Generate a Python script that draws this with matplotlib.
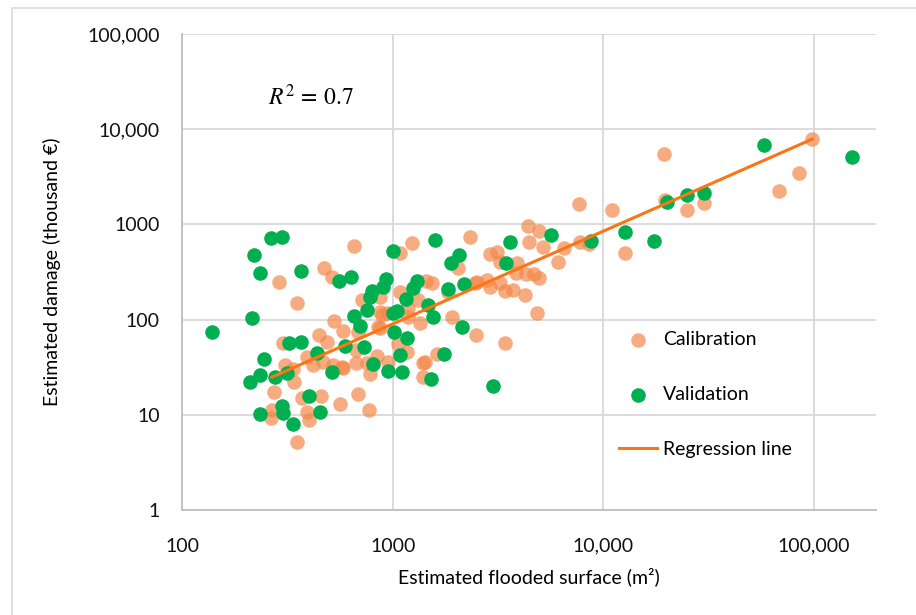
import numpy as np
import matplotlib
matplotlib.use("Agg")
import matplotlib.pyplot as plt
from matplotlib.ticker import FuncFormatter, FixedLocator, NullLocator
from matplotlib.patches import Rectangle

plt.rcParams['font.family'] = ['Lato', 'DejaVu Sans']
plt.rcParams['mathtext.fontset'] = 'stix'

# Calibration points (flooded surface m2, damage thousand EUR)
cal_x = [289, 351, 472, 515, 655, 1083, 1235, 2327, 2041, 1439, 1537, 715, 870, 1083,
         1318, 527, 581, 447, 302, 488, 392, 418, 308, 336, 340, 467, 521, 574, 670, 670,
         842, 780, 852, 890, 1060, 1169, 1348, 1182, 1393, 1393, 1623, 1911, 2485, 273,
         371, 457, 562, 684, 772, 267, 265, 392, 401, 351, 19395, 97724, 84792, 68123,
         24928, 30019, 19605, 7660, 10986, 12663, 4387, 4948, 4436, 5168, 6501, 7744,
         8544, 6087, 2895, 3126, 3229, 3890, 3848, 4292, 4684, 4948, 2512, 2803, 2895,
         3229, 3412, 3724, 4246, 4841, 1830, 940, 1182, 3412, 870, 950, 2458, 581, 684,
         755, 1423, 870]
cal_y = [248, 149, 348, 280, 593, 501, 638, 738, 348, 254, 242, 161, 173, 195,
         161, 97, 76, 69, 57, 58, 40, 33, 33, 30, 22, 36, 33, 32, 35, 48,
         41, 27, 84, 112, 55, 46, 92, 132, 35, 25, 44, 107, 69, 17.4,
         15, 15.8, 13, 16.5, 11.2, 11.2, 9.3, 10.7, 8.9, 5.2, 5486, 7889, 3467, 2243,
         1416, 1679, 1804, 1637, 1416, 501, 962, 853, 653, 579, 565, 653,
         622, 403, 489, 513, 403, 393, 308, 301, 301, 273, 248, 261, 220,
         242, 200, 205, 181, 117, 195, 117, 107, 57, 82, 36, 242, 31, 74,
         35, 36, 120]

# Validation points
val_x = [139, 215, 220, 235, 265, 298, 367, 556, 634, 245, 235, 210, 276, 315, 322,
         367, 437, 235, 298, 302, 336, 401, 452, 515, 594, 655, 699, 731, 755, 780,
         797, 806, 899, 929, 950, 1003, 1003, 1048, 1014, 1083, 1107, 1169, 1156, 1248,
         1304, 1471, 1553, 1520, 1588, 1752, 1830, 1891, 2063, 2132, 2180, 2992, 3450,
         3604, 5641, 8733, 12663, 17388, 20039, 24928, 30019, 57830, 151300]
val_y = [74, 104, 477, 308, 720, 738, 324, 254, 280, 39, 26, 22, 25, 27.5, 57,
         58, 45, 10.2, 12.4, 10.4, 8.0, 15.8, 10.7, 28, 53, 109, 86, 52, 126, 173,
         200, 34, 220, 267, 29, 526, 117, 123, 74, 42, 28, 64, 165, 215,
         254, 142, 107, 24, 686, 44, 210, 393, 477, 84, 236, 20, 393,
         653, 774, 669, 832, 669, 1719, 2036, 2137, 6823, 5105]

# Regression line y = a * x^b over the calibration range
reg_a = 0.107
reg_b = 0.975
reg_range = [267, 97724]

fig = plt.figure(figsize=(9.16, 6.15), dpi=100)
fig.patches.append(Rectangle((12 / 916, -0.05), 1.0, 1 - 8 / 615 + 0.05, transform=fig.transFigure,
                             fill=False, edgecolor='#d9d9d9', linewidth=1.2))
ax = fig.add_axes([182 / 916, 1 - 510 / 615, 694 / 916, 476 / 615])

ax.scatter(cal_x, cal_y, s=110, color='#F4884A', alpha=0.7, linewidths=0,
           label='Calibration', zorder=3)
ax.scatter(val_x, val_y, s=110, color='#00B050', linewidths=0,
           label='Validation', zorder=4)
rx = np.array(reg_range, dtype=float)
ax.plot(rx, reg_a * rx ** reg_b, color='#F97516', linewidth=2.2,
        label='Regression line', zorder=5)

ax.set_xscale('log')
ax.set_yscale('log')
ax.set_xlim(100, 10 ** 5.294)
ax.set_ylim(1, 100000)

fmt = FuncFormatter(lambda v, p: f"{v:,.0f}" if v >= 10000 else f"{v:.0f}")
ax.xaxis.set_major_locator(FixedLocator([100, 1000, 10000, 100000]))
ax.yaxis.set_major_locator(FixedLocator([1, 10, 100, 1000, 10000, 100000]))
ax.xaxis.set_minor_locator(NullLocator())
ax.yaxis.set_minor_locator(NullLocator())
ax.xaxis.set_major_formatter(fmt)
ax.yaxis.set_major_formatter(fmt)
ax.tick_params(axis='both', length=0, labelsize=14, colors='#111111')
ax.tick_params(axis='x', pad=20)
ax.tick_params(axis='y', pad=16)

ax.grid(True, color='#d9d9d9', linewidth=1.3)
ax.set_axisbelow(True)
for side in ['top', 'right']:
    ax.spines[side].set_visible(False)
for side in ['left', 'bottom']:
    ax.spines[side].set_color('#bfbfbf')
    ax.spines[side].set_linewidth(1.3)

ax.set_xlabel('Estimated flooded surface (m²)', fontsize=14, labelpad=9)
ax.set_ylabel('Estimated damage (thousand €)', fontsize=14, labelpad=19)

ax.text(0.185, 0.868, r'$R^2\,=\,0.7$', transform=ax.transAxes, fontsize=17,
        ha='center', va='center')

ax.legend(loc='center left', bbox_to_anchor=(0.629, 0.243), frameon=False,
          fontsize=14, labelspacing=1.95, handlelength=2.0, handletextpad=0.3,
          borderpad=0, borderaxespad=0, markerscale=1.0)

fig.savefig('out.png', dpi=100)
